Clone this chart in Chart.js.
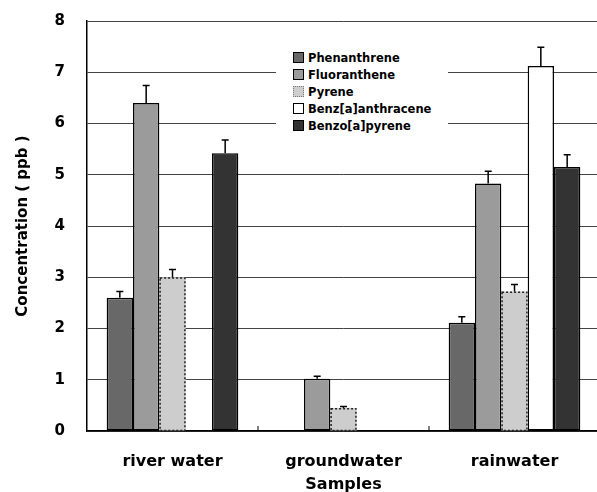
<!DOCTYPE html>
<html>
<head>
<meta charset="utf-8">
<script src="https://cdn.jsdelivr.net/npm/chart.js@4.4.1/dist/chart.umd.min.js"></script>
<style>
    html, body { margin: 0; padding: 0; background: #fff; overflow: hidden; }
    #wrap { position: relative; width: 600px; height: 500px; }
    #legend {
        position: absolute; left: 276px; top: 47px; width: 172px; height: 92px;
        background: #fff; font: bold 11.5px "DejaVu Sans", sans-serif; color: #000;
    }
    #legend .item { position: absolute; left: 17px; height: 14px; line-height: 14px; white-space: nowrap; }
    #legend .box { display: inline-block; width: 9px; height: 9px; border: 1px solid #000; vertical-align: -1px; margin-right: 4px; }
</style>
</head>
<body>
<div id="wrap">
    <canvas id="chart_canvas" width="600" height="500"></canvas>
    <div id="legend"></div>
</div>
<script>
const ctx = document.getElementById('chart_canvas');

// values (ppb)
const categories = ['river water', 'groundwater', 'rainwater'];
const phenanthrene = [2.6, 0, 2.11];
const fluoranthene = [6.4, 1.02, 4.83];
const pyrene = [3.0, 0.45, 2.72];
const benzAnthracene = [0, 0, 7.12];
const benzoPyrene = [5.42, 0, 5.15];

// upper error (standard deviation)
const phenanthreneErr = [0.12, 0, 0.12];
const fluorantheneErr = [0.34, 0.05, 0.24];
const pyreneErr = [0.15, 0.03, 0.14];
const benzAnthraceneErr = [0, 0, 0.37];
const benzoPyreneErr = [0.26, 0, 0.24];

const yTicks = [0, 1, 2, 3, 4, 5, 6, 7, 8];

var fontFamily = '"DejaVu Sans", sans-serif';

var dataSetList = [
    {label: 'Phenanthrene', data: phenanthrene, err: phenanthreneErr, backgroundColor: '#686868'},
    {label: 'Fluoranthene', data: fluoranthene, err: fluorantheneErr, backgroundColor: '#9b9b9b'},
    {label: 'Pyrene', data: pyrene, err: pyreneErr, backgroundColor: '#cdcdcd', dotted: true},
    {label: 'Benz[a]anthracene', data: benzAnthracene, err: benzAnthraceneErr, backgroundColor: '#ffffff'},
    {label: 'Benzo[a]pyrene', data: benzoPyrene, err: benzoPyreneErr, backgroundColor: '#333333'}
];

dataSetList.forEach(function (ds) {
    ds.borderColor = ds.dotted ? 'rgba(0,0,0,0)' : '#000';
    ds.borderWidth = ds.dotted ? 0 : 1.5;
    ds.borderSkipped = false;
});

// error bars, dotted outline, small inner ticks between groups
const extrasPlugin = {
    id: 'extras',
    afterDatasetsDraw: function (chart) {
        const c = chart.ctx;
        const yScale = chart.scales.y;
        const xScale = chart.scales.x;
        c.save();
        chart.data.datasets.forEach(function (ds, i) {
            const meta = chart.getDatasetMeta(i);
            meta.data.forEach(function (bar, j) {
                const p = bar.getProps(['x', 'y', 'base', 'width'], true);
                if (ds.dotted && ds.data[j] > 0) {
                    c.setLineDash([2, 2]);
                    c.lineWidth = 1.5;
                    c.strokeStyle = '#222';
                    c.strokeRect(p.x - p.width / 2 + 0.75, p.y + 0.75, p.width - 1.5, p.base - p.y - 0.75);
                    c.setLineDash([]);
                }
                if (ds.err[j] > 0) {
                    const yTop = yScale.getPixelForValue(ds.data[j] + ds.err[j]);
                    c.strokeStyle = '#000';
                    c.lineWidth = 1.5;
                    c.beginPath();
                    c.moveTo(p.x, p.y);
                    c.lineTo(p.x, yTop);
                    c.moveTo(p.x - 3.5, yTop);
                    c.lineTo(p.x + 3.5, yTop);
                    c.stroke();
                }
            });
        });
        // ticks at group boundaries, pointing up
        c.strokeStyle = '#000';
        c.lineWidth = 1;
        for (let k = 1; k < categories.length; k++) {
            const bx = (xScale.getPixelForTick(k - 1) + xScale.getPixelForTick(k)) / 2;
            c.beginPath();
            c.moveTo(bx, chart.chartArea.bottom);
            c.lineTo(bx, chart.chartArea.bottom - 5);
            c.stroke();
        }
        c.restore();
    }
};

var chartDraw = new Chart(ctx, {
    type: 'bar',
    data: {
        labels: categories,
        datasets: dataSetList
    },
    plugins: [extrasPlugin],
    options: {
        responsive: false,
        animation: false,
        categoryPercentage: 0.77,
        barPercentage: 1.0,
        layout: {
            padding: {top: 21, right: 0, bottom: 0, left: 0}
        },
        plugins: {
            legend: {display: false},
            tooltip: {enabled: false}
        },
        scales: {
            x: {
                afterFit: function (scale) {
                    scale.height = 69;
                    scale.paddingLeft = 0;
                    scale.paddingRight = 0;
                },
                grid: {display: false, drawTicks: false},
                border: {display: true, color: '#000', width: 1.5},
                ticks: {
                    color: '#000',
                    padding: 21,
                    font: {family: fontFamily, size: 16, weight: 'bold'}
                },
                title: {
                    display: true,
                    text: 'Samples',
                    color: '#000',
                    padding: {top: 0, bottom: 5.4},
                    font: {family: fontFamily, size: 16, weight: 'bold'}
                }
            },
            y: {
                min: 0,
                max: 8,
                afterFit: function (scale) {
                    scale.width = 87;
                    scale.paddingTop = 0;
                    scale.paddingBottom = 0;
                },
                afterBuildTicks: function (scale) {
                    scale.ticks = yTicks.map(function (v) { return {value: v}; });
                },
                grid: {color: '#444', lineWidth: 1, drawTicks: false},
                border: {display: true, color: '#000', width: 1.5},
                ticks: {
                    color: '#000',
                    padding: 22,
                    font: {family: fontFamily, size: 15, weight: 'bold'}
                },
                title: {
                    display: true,
                    text: 'Concentration ( ppb )',
                    color: '#000',
                    padding: {top: 14, bottom: 0},
                    font: {family: fontFamily, size: 15, weight: 'bold'}
                }
            }
        }
    }
});

// legend as html, from the datasets
var legendBox = document.getElementById('legend');
chartDraw.data.datasets.forEach(function (ds, i) {
    var item = document.createElement('div');
    item.className = 'item';
    item.style.top = (4 + i * 17) + 'px';
    var box = document.createElement('span');
    box.className = 'box';
    box.style.background = ds.backgroundColor;
    if (ds.dotted) {
        box.style.border = '1px dotted #777';
    }
    item.appendChild(box);
    item.appendChild(document.createTextNode(ds.label));
    legendBox.appendChild(item);
});
</script>
</body>
</html>
